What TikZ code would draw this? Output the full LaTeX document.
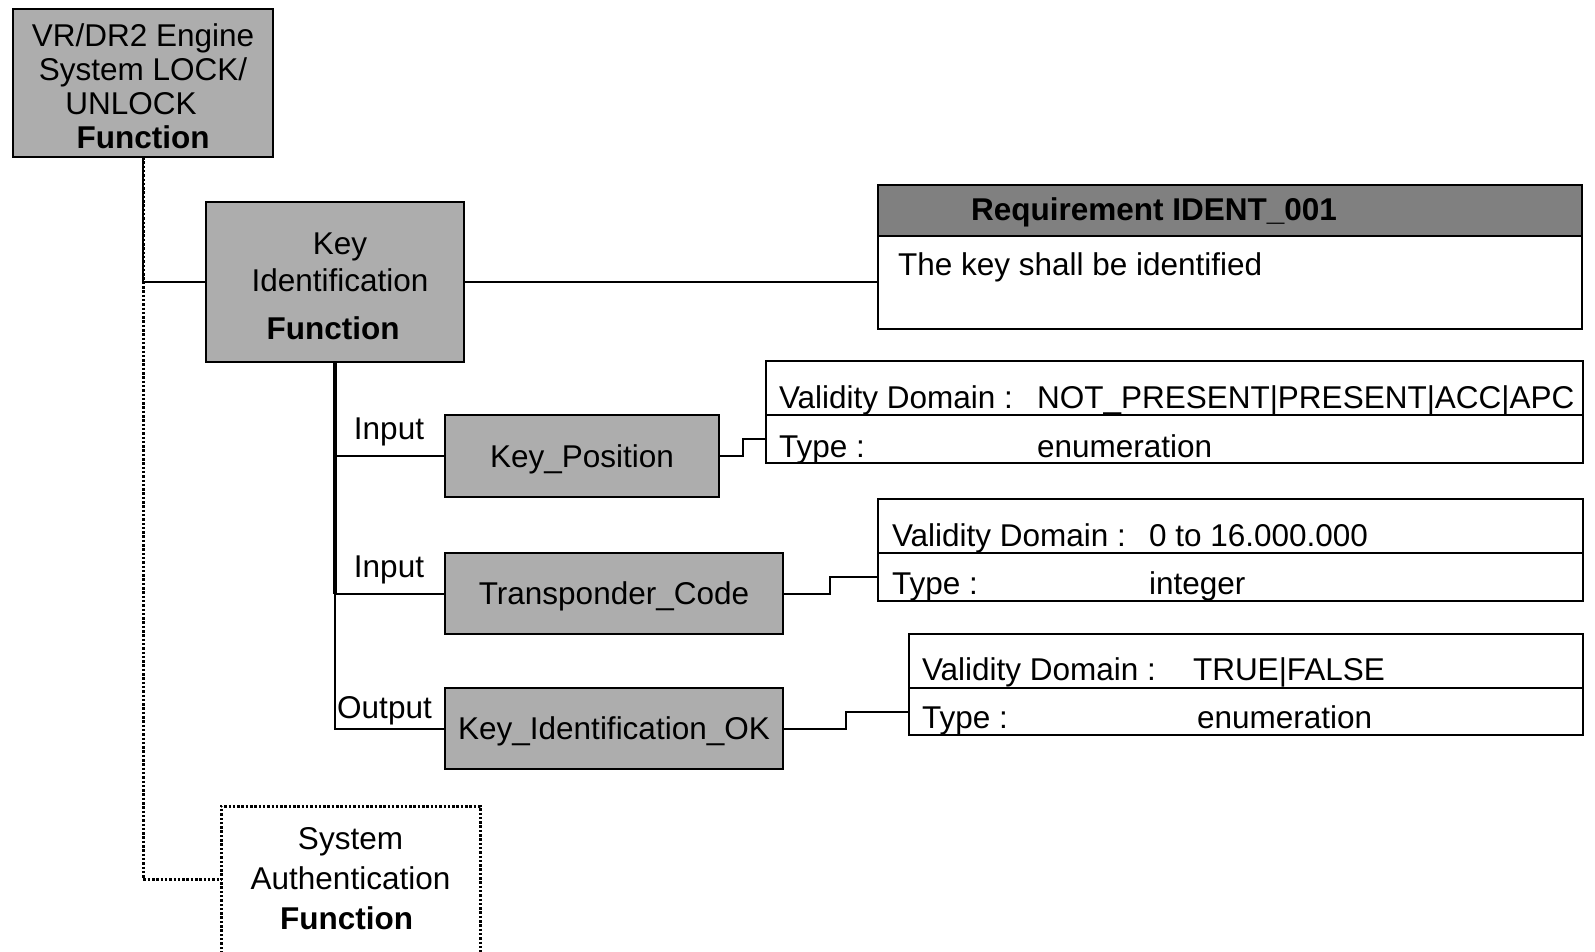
\documentclass[tikz,border=0pt]{standalone}
\usepackage{fontspec}
\setmainfont{Liberation Sans}
\usetikzlibrary{calc}
\definecolor{boxgray}{RGB}{173,173,173}
\definecolor{headgray}{RGB}{128,128,128}
\begin{document}
\begin{tikzpicture}[x=1pt,y=-1pt,
  every node/.style={font=\fontsize{31.5pt}{34pt}\selectfont, inner sep=0pt, outer sep=0pt},
  fbox/.style={draw=black, line width=2pt, fill=boxgray, align=center},
  onebox/.style={fbox, text height=22.6pt, text depth=0pt},
  cell/.style={draw=black, line width=1.6pt, fill=white},
  txt/.style={anchor=base west},
  lbl/.style={anchor=base},
  conn/.style={draw=black, line width=2pt},
  spine/.style={draw=black, line width=3.5pt},
  dotconn/.style={draw=black, line width=3pt, dash pattern=on 2.5pt off 1.8pt},
]
\useasboundingbox (0,0) rectangle (1595,951);

% main function boxes
\node[fbox, minimum width=260pt, minimum height=148pt] (top) at (143,83)
  {\rule{0pt}{30pt}VR/DR2 Engine\\System LOCK/\\UNLOCK\hspace*{24pt}\mbox{}\\\textbf{Function}};
\node[fbox, minimum width=258pt, minimum height=160pt,
      font=\fontsize{31.5pt}{37pt}\selectfont] (ki) at (335,282)
  {\rule{0pt}{30pt}\hspace*{10pt}Key\\\hspace*{10pt}Identification\\[11pt]\textbf{Function}\hspace*{4pt}\mbox{}};
\node[align=center, minimum width=259pt, minimum height=146pt,
      font=\fontsize{31.5pt}{40pt}\selectfont] (sa) at (350.5,879)
  {System\\Authentication\\\textbf{Function}\hspace*{8pt}\mbox{}};
\draw[dotconn] ([yshift=-40pt]sa.south west) -- (sa.north west) -- (sa.north east) -- ([yshift=-40pt]sa.south east);

% requirement
\node[draw=black, line width=2pt, fill=headgray, minimum width=704pt, minimum height=51pt] (reqh) at (1230,210.5) {};
\node[draw=black, line width=2pt, fill=white, minimum width=704pt, minimum height=93pt] (req) at (1230,282.5) {};
\node[txt] (reqt) at (971,220) {\textbf{Requirement IDENT\_001}};
\node[txt] (reqx) at (898,275) {The key shall be identified};

% data boxes
\node[onebox, minimum width=274pt, minimum height=82pt] (kp) at (582,456) {Key\_Position};
\node[onebox, minimum width=338pt, minimum height=81pt] (tc) at (614,593.5) {Transponder\_Code};
\node[onebox, minimum width=338pt, minimum height=81pt] (kiok) at (614,728.5) {Key\_Identification\_OK};

% tables
\node[cell, minimum width=817pt, minimum height=54pt] (t1a) at (1174.5,388) {};
\node[cell, minimum width=817pt, minimum height=48pt] (t1b) at (1174.5,439) {};
\node[txt] (t1al) at (779,408.5) {Validity Domain :};
\node[txt] (t1av) at (1037,408.5) {NOT\_PRESENT|PRESENT|ACC|APC};
\node[txt] (t1bl) at (779,457) {Type :};
\node[txt] (t1bv) at (1037,457) {enumeration};

\node[cell, minimum width=705pt, minimum height=54pt] (t2a) at (1230.5,526) {};
\node[cell, minimum width=705pt, minimum height=48pt] (t2b) at (1230.5,577) {};
\node[txt] (t2al) at (892,546) {Validity Domain :};
\node[txt] (t2av) at (1149,546) {0 to 16.000.000};
\node[txt] (t2bl) at (892,594) {Type :};
\node[txt] (t2bv) at (1149,594) {integer};

\node[cell, minimum width=674pt, minimum height=54pt] (t3a) at (1246,661) {};
\node[cell, minimum width=674pt, minimum height=47pt] (t3b) at (1246,711.5) {};
\node[txt] (t3al) at (922,680.5) {Validity Domain :};
\node[txt] (t3av) at (1193,680.5) {TRUE|FALSE};
\node[txt] (t3bl) at (922,728.5) {Type :};
\node[txt] (t3bv) at (1197,728.5) {enumeration};

% labels
\node[lbl] (in1) at (389,439) {Input};
\node[lbl] (in2) at (389,577) {Input};
\node[lbl] (out1) at (384.5,718) {Output};

% connectors
\draw[dotconn] (top.south) |- (sa.west);
\draw[conn] (top.south) |- (ki.west);
\draw[conn] (ki.east) -- (req.west |- ki.east);
\draw[spine] (ki.south) -- (ki.south |- tc.west);
\draw[conn] (ki.south) |- (kp.west);
\draw[conn] (ki.south) |- (tc.west);
\draw[conn] (ki.south) |- (kiok.west);
\draw[conn] (kp.east) -- ++(24,0) |- (t1b.west);
\draw[conn] (tc.east) -- ++(47,0) |- (t2b.west);
\draw[conn] (kiok.east) -- ++(63,0) |- (t3b.west);
\end{tikzpicture}
\end{document}
